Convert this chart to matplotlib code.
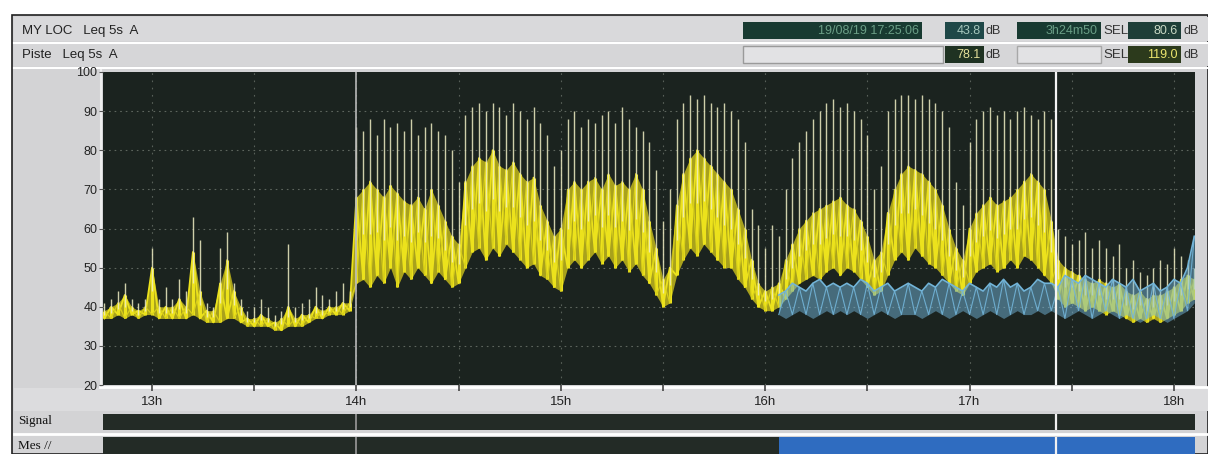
import matplotlib
matplotlib.use("Agg")
import matplotlib.pyplot as plt
from matplotlib.patches import Rectangle
import numpy as np

# Leq 5s A, one reading every 2 min, minutes after 12:00 (12:46 .. 18:06)
minutes = np.arange(46, 367, 2)

# bottom of the dense band
lo = [37, 37, 38, 37, 38, 37, 38, 38, 37, 37,
      37, 37, 37, 38, 37, 36, 36, 36, 37, 37,
      36, 35, 35, 35, 35, 34, 34, 35, 35, 35,
      36, 37, 37, 38, 38, 38, 39, 46, 47, 45,
      48, 46, 50, 45, 49, 47, 50, 48, 46, 49,
      47, 45, 46, 50, 54, 55, 52, 55, 53, 56,
      54, 52, 50, 51, 48, 47, 45, 44, 50, 52,
      50, 52, 54, 51, 53, 50, 52, 49, 51, 48,
      46, 43, 40, 41, 48, 52, 55, 53, 56, 54,
      52, 50, 50, 47, 45, 42, 40, 39, 39, 40,
      42, 44, 46, 47, 48, 47, 49, 50, 48, 50,
      49, 47, 45, 43, 44, 48, 52, 54, 52, 55,
      53, 51, 50, 48, 46, 44, 43, 46, 49, 50,
      51, 49, 50, 52, 50, 53, 52, 50, 48, 46,
      42, 40, 41, 40, 39, 40, 39, 38, 39, 38,
      37, 36, 37, 36, 37, 36, 37, 38, 39, 41,
      42]
# top of the dense band
hi = [39, 40, 41, 43, 40, 39, 40, 50, 40, 40,
      40, 42, 40, 54, 44, 39, 39, 46, 52, 44,
      40, 37, 37, 38, 37, 36, 37, 40, 37, 38,
      38, 40, 39, 40, 40, 41, 41, 68, 70, 72,
      70, 68, 71, 69, 67, 66, 68, 65, 70, 66,
      62, 58, 56, 72, 76, 78, 77, 80, 76, 75,
      77, 74, 72, 73, 66, 62, 58, 60, 70, 72,
      70, 72, 73, 70, 74, 71, 72, 70, 74, 70,
      62, 55, 47, 50, 66, 74, 78, 80, 78, 76,
      74, 72, 70, 65, 60, 52, 46, 44, 45, 46,
      52, 56, 60, 62, 64, 65, 66, 67, 68, 66,
      65, 62, 58, 52, 54, 64, 70, 74, 76, 75,
      74, 72, 70, 66, 60, 55, 52, 60, 64, 66,
      68, 66, 67, 68, 70, 72, 74, 72, 70, 62,
      52, 50, 49, 48, 47, 46, 47, 46, 45, 46,
      44, 43, 44, 42, 43, 43, 44, 45, 47, 48,
      47]
# spike peaks
pk = [41, 42, 44, 46, 42, 41, 42, 55, 42, 45,
      42, 47, 44, 63, 57, 41, 40, 55, 59, 46,
      42, 39, 40, 42, 40, 38, 39, 56, 40, 41,
      42, 45, 43, 42, 44, 46, 44, 86, 85, 88,
      84, 88, 86, 87, 85, 88, 84, 86, 87, 85,
      84, 80, 72, 89, 91, 92, 90, 92, 91, 89,
      92, 90, 88, 91, 87, 84, 76, 80, 88, 90,
      86, 88, 87, 89, 90, 87, 91, 88, 86, 85,
      82, 75, 62, 70, 88, 92, 94, 93, 94, 92,
      91, 92, 90, 88, 82, 65, 61, 55, 61, 58,
      70, 78, 82, 85, 88, 90, 92, 93, 91, 92,
      90, 88, 84, 70, 76, 90, 93, 94, 94, 93,
      94, 93, 92, 90, 86, 72, 66, 82, 88, 90,
      91, 89, 90, 88, 90, 91, 89, 88, 90, 88,
      60, 58, 56, 57, 59, 55, 57, 55, 53, 56,
      50, 52, 49, 48, 50, 52, 51, 55, 53, 52,
      50]

# second trace (Piste), from 16:04
blue_minutes = np.arange(244, 367, 2)
blue_lo = [38, 37, 38, 39, 38, 37, 38, 39, 38, 39,
           38, 39, 38, 37, 38, 39, 38, 37, 38, 38,
           38, 37, 38, 39, 38, 37, 38, 39, 38, 37,
           38, 39, 38, 37, 38, 39, 38, 38, 39, 38,
           39, 38, 37, 38, 39, 38, 37, 38, 39, 38,
           37, 38, 37, 36, 37, 38, 37, 36, 37, 38, 39, 41]
blue_hi = [43, 44, 46, 45, 44, 46, 47, 45, 46, 45,
           46, 45, 47, 46, 44, 45, 46, 44, 45, 46,
           45, 44, 46, 45, 47, 46, 45, 44, 46, 45,
           44, 46, 45, 47, 45, 46, 44, 45, 47, 46,
           46, 45, 48, 47, 46, 48, 47, 46, 45, 47,
           46, 45, 47, 44, 45, 46, 44, 45, 47, 46, 50, 58]

hour_ticks = [60, 120, 180, 240, 300, 360]
hour_labels = ["13h", "14h", "15h", "16h", "17h", "18h"]
half_ticks = [90, 150, 210, 270, 330]
y_ticks = [20, 30, 40, 50, 60, 70, 80, 90, 100]
cursors = [120, 325.5]
mes_start = 244
t_min, t_max = 45.6, 366.2

W, H = 1208, 454
fig = plt.figure(figsize=(W / 100, H / 100), dpi=100, facecolor="white")

# panel background, drawn in pixel coordinates
bg = fig.add_axes([0, 0, 1, 1], zorder=-5)
bg.set_xlim(0, W)
bg.set_ylim(H, 0)
bg.axis("off")
bg.add_patch(Rectangle((12, 15), W - 12, H - 15, facecolor="#d3d3d5", edgecolor="#202020", lw=1.2))
bg.add_patch(Rectangle((14, 17), W - 14, 24, facecolor="#d9d9db", lw=0))
bg.add_patch(Rectangle((14, 44), W - 14, 22, facecolor="#d6d6d8", lw=0))
bg.plot([14, W], [42.5, 42.5], color="white", lw=1.5)
bg.plot([14, W], [67.5, 67.5], color="white", lw=1.5)
bg.add_patch(Rectangle((14, 388), W - 14, 23, facecolor="#dcdcde", lw=0))
bg.plot([100, W], [387, 387], color="white", lw=2)
bg.plot([14, W], [433.5, 433.5], color="white", lw=2)
bg.plot([100.5, 100.5], [70, 386], color="#eeeeee", lw=1.5)

sans = "Liberation Sans"
bg.text(22, 31, "MY LOC   Leq 5s  A", fontsize=9.5, family=sans, color="#222222", va="center")
bg.text(22, 55, "Piste   Leq 5s  A", fontsize=9.5, family=sans, color="#222222", va="center")

def box(x0, x1, y0, y1, fc, txt="", tc="white", ec="none"):
    bg.add_patch(Rectangle((x0, y0), x1 - x0, y1 - y0, facecolor=fc, edgecolor=ec, lw=1))
    if txt:
        bg.text(x1 - 3, (y0 + y1) / 2, txt, fontsize=9, family=sans, color=tc,
                ha="right", va="center")

box(743, 922, 22, 39, "#183a31", "19/08/19 17:25:06", "#6a9e86")
box(945, 984, 22, 39, "#1f4848", "43.8", "#a5c6bc")
bg.text(986, 31, "dB", fontsize=9, family=sans, color="#333333", va="center")
box(1017, 1101, 22, 39, "#183a31", "3h24m50", "#6a9e86")
bg.text(1103, 31, "SEL", fontsize=9.5, family=sans, color="#333333", va="center")
box(1128, 1181, 22, 39, "#1e3e38", "80.6", "#c8d8c4")
bg.text(1183, 31, "dB", fontsize=9, family=sans, color="#333333", va="center")

box(743, 943, 46, 63, "#e2e2e4", ec="#9a9a9a")
box(945, 984, 46, 63, "#1f3222", "78.1", "#e4e09a")
bg.text(986, 55, "dB", fontsize=9, family=sans, color="#333333", va="center")
box(1017, 1101, 46, 63, "#e2e2e4", ec="#a8a8a8")
bg.text(1103, 55, "SEL", fontsize=9.5, family=sans, color="#333333", va="center")
box(1128, 1181, 46, 63, "#2c3a1c", "119.0", "#ece66e")
bg.text(1183, 55, "dB", fontsize=9, family=sans, color="#333333", va="center")

bg.text(18, 421, "Signal", fontsize=9.5, family="Liberation Serif", color="#111111", va="center")
bg.text(18, 446, "Mes //", fontsize=9.5, family="Liberation Serif", color="#111111", va="center")

# main level chart
ax = fig.add_axes([103 / W, (H - 385) / H, 1092 / W, 313 / H])
ax.set_facecolor("#1b231f")
ax.set_xlim(t_min, t_max)
ax.set_ylim(20, 100)
for s in ax.spines.values():
    s.set_visible(False)

for y in y_ticks[1:-1]:
    ax.axhline(y, color="#8b9389", lw=0.8, ls=(0, (1.5, 3.5)), alpha=0.6, zorder=1)
for x in half_ticks + hour_ticks:
    ax.axvline(x, color="#8b9389", lw=0.8, ls=(0, (1.5, 5)), alpha=0.55, zorder=1)

# dense band: dim fill, bright strokes and a zigzag running lo/hi alternately
yellow = "#ece21c"
lo_a, hi_a, pk_a = np.array(lo), np.array(hi), np.array(pk)
zig = np.where(np.arange(len(minutes)) % 2 == 0, lo_a, hi_a)
zag = np.where(np.arange(len(minutes)) % 2 == 0, hi_a, lo_a)
ax.fill_between(minutes, lo_a, hi_a, color="#a8a11c", lw=0, zorder=2)
ax.vlines(minutes, lo_a, hi_a, color=yellow, lw=2.2, zorder=3)
ax.plot(minutes, zig, color=yellow, lw=1.3, zorder=3)
ax.plot(minutes, zag, color="#d8cf18", lw=0.9, zorder=3)
# spikes (pale) running up from inside the band
ax.vlines(minutes, (lo_a + hi_a) / 2, pk_a, color="#efedc4", lw=1.0, alpha=0.85, zorder=4)

# Piste trace, noisy band around 40-46 dB
blue = "#72b4d8"
bzig = np.where(np.arange(len(blue_minutes)) % 2 == 0, blue_lo, blue_hi)
ax.fill_between(blue_minutes, blue_lo, blue_hi, color=blue, alpha=0.5, lw=0, zorder=5)
ax.plot(blue_minutes, bzig, color=blue, lw=0.8, alpha=0.9, zorder=5)
ax.plot(blue_minutes, blue_hi, color=blue, lw=1.2, zorder=5)

ax.axvline(cursors[0], color="#b8b8b8", lw=1.2, zorder=6)
ax.axvline(cursors[1], color="#f4f4f4", lw=1.6, zorder=6)

ax.set_xticks(hour_ticks)
ax.set_xticklabels(hour_labels)
ax.set_xticks(half_ticks, minor=True)
ax.set_yticks(y_ticks)
ax.set_yticklabels([str(v) for v in y_ticks])
ax.tick_params(axis="x", which="both", direction="out", length=4, width=1.2,
               color="#444444", pad=4, labelsize=9.5)
ax.tick_params(axis="y", direction="out", length=3, color="#555555", pad=1, labelsize=9)
for lab in ax.get_xticklabels() + ax.get_yticklabels():
    lab.set_family(sans)
    lab.set_color("#222222")

# signal and measurement rows
sig = fig.add_axes([103 / W, (H - 430) / H, 1092 / W, 16 / H])
mes = fig.add_axes([103 / W, 0, 1092 / W, 17 / H])
for a in (sig, mes):
    a.set_xlim(t_min, t_max)
    a.set_ylim(0, 1)
    a.set_xticks([])
    a.set_yticks([])
    for s in a.spines.values():
        s.set_visible(False)
sig.set_facecolor("#232b26")
mes.set_facecolor("#232b26")
mes.axvspan(mes_start, t_max, color="#2f6cc0", lw=0)
for a in (sig, mes):
    a.axvline(cursors[0], color="#9a9a9a", lw=1.2)
    a.axvline(cursors[1], color="#f0f0f0", lw=1.6)

fig.savefig("out.png", dpi=100, facecolor=fig.get_facecolor())
